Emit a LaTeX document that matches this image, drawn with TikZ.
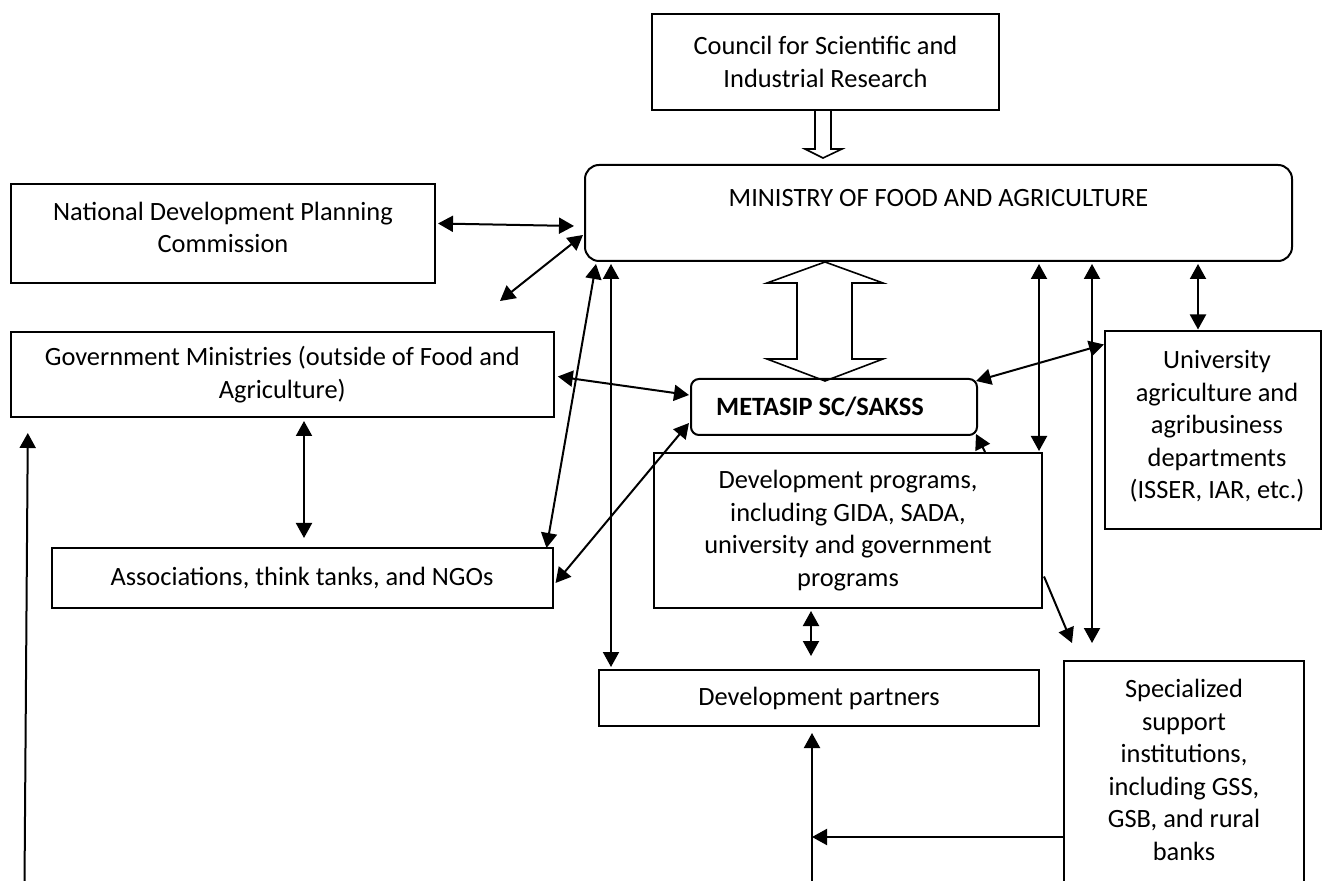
\documentclass[tikz,border=0pt]{standalone}
\usepackage{fontspec}
\setmainfont{Carlito}
\usetikzlibrary{arrows.meta,calc,positioning}

\tikzset{
  boks/.style={draw, line width=1pt, align=center, inner sep=2pt},
  rundboks/.style={boks, rounded corners=7pt},
  pil/.style={line width=1pt, {Triangle[length=7.5pt,width=8pt]}-{Triangle[length=7.5pt,width=8pt]}},
  enpil/.style={line width=1pt, -{Triangle[length=7.5pt,width=8pt]}},
  hulpil/.style={draw, line width=0.8pt}
}

\begin{document}
\begin{tikzpicture}[x=0.5pt, y=-0.5pt, font=\fontsize{13.2}{16.3}\selectfont]
    \useasboundingbox (0,0) rectangle (1322,881);
    % Kasser (koordinater i billedpunkter, y nedad)
    \node[boks, minimum width=173.5pt, minimum height=48pt] (csir) at (825.5,62)
      {Council for Scientific and\\Industrial Research};
    \node[rundboks, minimum width=353.5pt, minimum height=48pt,
      label={[yshift=7.5pt]center:MINISTRY OF FOOD AND AGRICULTURE}] (moa) at (938.5,213) {};
    \node[boks, minimum width=212pt, minimum height=49.5pt,
      label={[yshift=3pt, align=center]center:National Development Planning\\Commission}] (ndpc) at (223,233.5) {};
    \node[boks, minimum width=271.5pt, minimum height=42.5pt] (gov) at (282.3,374.5)
      {Government Ministries (outside of Food and\\Agriculture)};
    \node[boks, minimum width=250.5pt, minimum height=30pt] (assoc) at (302,578)
      {Associations, think tanks, and NGOs};
    \node[rundboks, rounded corners=4pt, minimum width=143pt, minimum height=28pt,
      label={[xshift=-7pt]center:\textbf{METASIP SC/SAKSS}}] (metasip) at (834,407) {};
    \node[boks, minimum width=194pt, minimum height=77.5pt] (devprog) at (848,530.5)
      {Development programs,\\including GIDA, SADA,\\university and government\\programs};
    \node[boks, minimum width=108pt, minimum height=99pt,
      label={[xshift=2pt, yshift=2pt, align=center]center:University\\agriculture and\\agribusiness\\departments\\(ISSER, IAR, etc.)}] (univ) at (1213,430.5) {};
    \node[boks, minimum width=220pt, minimum height=28pt] (devpart) at (819,698)
      {Development partners};
    \node[boks, anchor=north, minimum width=120pt, minimum height=120pt,
      label={[yshift=5.5pt, align=center]center:Specialized\\support\\institutions,\\including GSS,\\GSB, and rural\\banks}] (spec) at (1184,660) {};
    % Frie ender
    \coordinate (npfri) at (500,301);
    \coordinate (venstrefod) at (24.5,885);
    \coordinate (devfod) at (812,885);
    % Hule pile
    \draw[hulpil] (815,110.5) -- (815,149) -- (805,149) -- (823,158) -- (842,149) -- (831,149) -- (831,110.5);
    \draw[hulpil] (825,262) -- (883,283) -- (852,283) -- (852,359) -- (883,359) -- (825,381)
      -- (767,359) -- (797,359) -- (797,283) -- (767,283) -- cycle;
    % Forbindelser til venstre
    \draw[pil] ($(ndpc.east)+(2,-10)$) -- ($(moa.west)+(-10,13)$);
    \draw[pil] ($(moa.west)+(-1,22)$) -- (npfri);
    \draw[pil] ($(gov.east)+(3,2)$) -- ($(metasip.west)+(-1,-12)$);
    \draw[pil] ($(gov.south -| assoc.north)+(2,3)$) -- ($(assoc.north)+(2,-9)$);
    \draw[enpil] (venstrefod) -- ($(gov.south west)+(18,15)$);
    \draw[pil] ($(assoc.north east)+(-7,1)$) -- ($(moa.south west)+(12,2)$);
    \draw[pil] ($(assoc.east)+(2,5)$) -- ($(metasip.west)+(-1,16)$);
    \draw[pil] ($(moa.south west)+(27,2)$) -- ($(devpart.north west)+(13,-2)$);
    % Forbindelser til hoejre
    \draw[enpil] ($(devprog.north east)+(-58,0)$) -- ($(metasip.south east)+(-2,-2)$);
    \draw[pil] ($(devprog.north east |- moa.south)+(-4,2)$) -- ($(devprog.north east)+(-4,-1)$);
    \draw[pil] ($(spec.north west |- moa.south)+(29,2)$) -- ($(spec.north west)+(29,-17)$);
    \draw[pil] ($(univ.north |- moa.south)+(-15,2)$) -- ($(univ.north)+(-15,-1)$);
    \draw[pil] ($(univ.north west)+(0,14)$) -- ($(metasip.north east)+(-2,3)$);
    \draw[enpil] ($(devprog.east)+(1,46)$) -- ($(spec.north west)+(9,-17)$);
    \draw[pil] ($(devprog.south -| devpart.north)+(-8,2)$) -- ($(devpart.north)+(-8,-13)$);
    \draw[enpil] ($(spec.north west)+(0,177)$) -- ($(devfod)+(0,-48)$);
    \draw[enpil] (devfod) -- ($(devpart.south)+(-7,6)$);
  \end{tikzpicture}
\end{document}
